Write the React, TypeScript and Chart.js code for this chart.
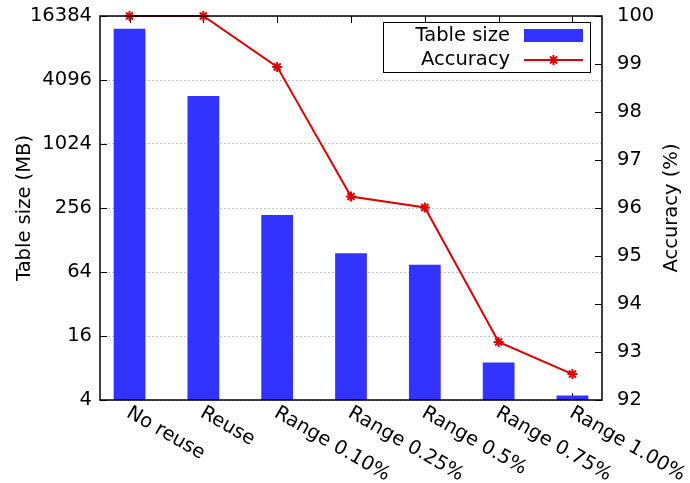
import React, { useEffect, useRef } from "react";
import { Chart, registerables } from "chart.js";

Chart.register(...registerables);

const categories = ["No reuse", "Reuse", "Range 0.10%", "Range 0.25%", "Range 0.5%", "Range 0.75%", "Range 1.00%"];
const tableSizeMB = [12400, 2900, 220, 96, 75, 9, 4.4];
const accuracyPct = [100, 100, 98.94, 96.24, 96.01, 93.21, 92.54];
const leftTicks = [4, 16, 64, 256, 1024, 4096, 16384];
const rightTicks = [92, 93, 94, 95, 96, 97, 98, 99, 100];
const leftTitle = "Table size (MB)";
const rightTitle = "Accuracy (%)";
const legendLabels = ["Table size", "Accuracy"];

const FONT = "DejaVu Sans";
const FS = 19.5;
const BAR_COLOR = "#3333ff";
const LINE_COLOR = "#dd0000";

const decorPlugin = {
  id: "decor",
  beforeDatasetsDraw(chart: any) {
    const { ctx, chartArea: a } = chart;
    const xS = chart.scales.x;
    const yS = chart.scales.y;
    const y1 = chart.scales.y1;
    ctx.save();
    ctx.strokeStyle = "#000";
    ctx.lineWidth = 1;
    const TL = 7;
    ctx.beginPath();
    leftTicks.forEach((v) => {
      const py = Math.round(yS.getPixelForValue(v)) + 0.5;
      ctx.moveTo(a.left, py);
      ctx.lineTo(a.left + TL, py);
    });
    rightTicks.forEach((v) => {
      const py = Math.round(y1.getPixelForValue(v)) + 0.5;
      ctx.moveTo(a.right, py);
      ctx.lineTo(a.right - TL, py);
    });
    categories.forEach((_, i) => {
      const px = Math.round(xS.getPixelForValue(i)) + 0.5;
      ctx.moveTo(px, a.top);
      ctx.lineTo(px, a.top + TL);
      ctx.moveTo(px, a.bottom);
      ctx.lineTo(px, a.bottom - TL);
    });
    ctx.stroke();
    ctx.restore();
  },
  afterDatasetsDraw(chart: any) {
    const { ctx, chartArea: a } = chart;
    const xS = chart.scales.x;
    ctx.save();
    // border
    ctx.strokeStyle = "#000";
    ctx.lineWidth = 1.5;
    ctx.strokeRect(a.left, a.top, a.right - a.left, a.bottom - a.top);

    ctx.fillStyle = "#000";
    ctx.font = `${FS}px "${FONT}"`;
    // x labels rotated
    categories.forEach((lab, i) => {
      const px = xS.getPixelForValue(i);
      ctx.save();
      ctx.translate(px - 4, a.bottom + 16);
      ctx.rotate(Math.PI / 6);
      ctx.textAlign = "left";
      ctx.textBaseline = "alphabetic";
      ctx.fillText(lab, 0, 0);
      ctx.restore();
    });
    // axis titles
    const cy = (a.top + a.bottom) / 2;
    ctx.save();
    ctx.translate(25, cy);
    ctx.rotate(-Math.PI / 2);
    ctx.textAlign = "center";
    ctx.textBaseline = "middle";
    ctx.fillText(leftTitle, 0, 0);
    ctx.restore();
    ctx.save();
    ctx.translate(672, cy);
    ctx.rotate(-Math.PI / 2);
    ctx.textAlign = "center";
    ctx.textBaseline = "middle";
    ctx.fillText(rightTitle, 0, 0);
    ctx.restore();

    // legend
    ctx.strokeStyle = "#000";
    ctx.lineWidth = 1;
    ctx.strokeRect(383.5, 22.5, 207, 50);
    ctx.textAlign = "right";
    ctx.textBaseline = "middle";
    ctx.fillText(legendLabels[0], 510, 36);
    ctx.fillText(legendLabels[1], 510, 60);
    ctx.fillStyle = BAR_COLOR;
    ctx.fillRect(524, 29, 59, 13);
    ctx.strokeStyle = LINE_COLOR;
    ctx.lineWidth = 2;
    ctx.beginPath();
    ctx.moveTo(524, 60);
    ctx.lineTo(583, 60);
    ctx.stroke();
    // star marker
    const sx = 553.5, sy = 60, r = 5;
    ctx.beginPath();
    ctx.moveTo(sx - r, sy); ctx.lineTo(sx + r, sy);
    ctx.moveTo(sx, sy - r); ctx.lineTo(sx, sy + r);
    const d = r * 0.7071;
    ctx.moveTo(sx - d, sy - d); ctx.lineTo(sx + d, sy + d);
    ctx.moveTo(sx - d, sy + d); ctx.lineTo(sx + d, sy - d);
    ctx.stroke();
    ctx.restore();
  },
};

const noPad = (w: number) => (s: any) => {
  s.width = w;
  s.paddingTop = 0;
  s.paddingBottom = 0;
  s.paddingLeft = 0;
  s.paddingRight = 0;
};

export default function App() {
  const ref = useRef<HTMLCanvasElement>(null);
  useEffect(() => {
    document.body.style.margin = "0";
    const chart = new Chart(ref.current!, {
      type: "bar",
      data: {
        datasets: [
          {
            type: "line",
            label: legendLabels[1],
            data: accuracyPct.map((v, i) => ({ x: i, y: v })),
            yAxisID: "y1",
            xAxisID: "x",
            borderColor: LINE_COLOR,
            backgroundColor: LINE_COLOR,
            borderWidth: 2,
            pointStyle: "star",
            pointRadius: 5,
            pointBorderWidth: 2,
            pointBorderColor: LINE_COLOR,
            tension: 0,
            clip: false,
            order: 0,
          } as any,
          {
            type: "bar",
            label: legendLabels[0],
            data: tableSizeMB.map((v, i) => ({ x: i, y: v })),
            yAxisID: "y",
            xAxisID: "x",
            backgroundColor: BAR_COLOR,
            borderWidth: 0,
            barPercentage: 0.43,
            categoryPercentage: 1,
            order: 1,
          } as any,
        ],
      },
      options: {
        animation: false,
        responsive: false,
        maintainAspectRatio: false,
        layout: { padding: { top: 16, left: 0, right: 0, bottom: 0 } },
        plugins: { legend: { display: false }, tooltip: { enabled: false } },
        scales: {
          x: {
            type: "linear",
            min: -0.4,
            max: 6.4,
            offset: false,
            ticks: { display: false },
            grid: { display: false },
            border: { display: false },
            afterFit: (s: any) => {
              s.height = 83;
              s.paddingLeft = 0;
              s.paddingRight = 0;
            },
          },
          y: {
            type: "logarithmic",
            position: "left",
            min: 4,
            max: 16384,
            afterBuildTicks: (s: any) => { s.ticks = leftTicks.map((v) => ({ value: v })); },
            ticks: {
              callback: (v: any) => String(v),
              color: "#000",
              padding: 8,
              font: { family: FONT, size: FS },
            },
            grid: {
              color: "rgba(150,150,150,0.55)",
              drawTicks: false,
              lineWidth: 1,
            },
            border: { display: false, dash: [2, 2] },
            afterFit: noPad(100),
          },
          y1: {
            type: "linear",
            position: "right",
            min: 92,
            max: 100,
            afterBuildTicks: (s: any) => { s.ticks = rightTicks.map((v) => ({ value: v })); },
            ticks: {
              color: "#000",
              padding: 15,
              font: { family: FONT, size: FS },
            },
            grid: { display: false, drawTicks: false },
            border: { display: false },
            afterFit: noPad(88),
          },
        },
      },
      plugins: [decorPlugin],
    });
    return () => chart.destroy();
  }, []);
  return (
    <div style={{ position: "absolute", left: 0, top: 0, width: 690, height: 483 }}>
      <canvas ref={ref} width={690} height={483} style={{ width: 690, height: 483 }} />
    </div>
  );
}
